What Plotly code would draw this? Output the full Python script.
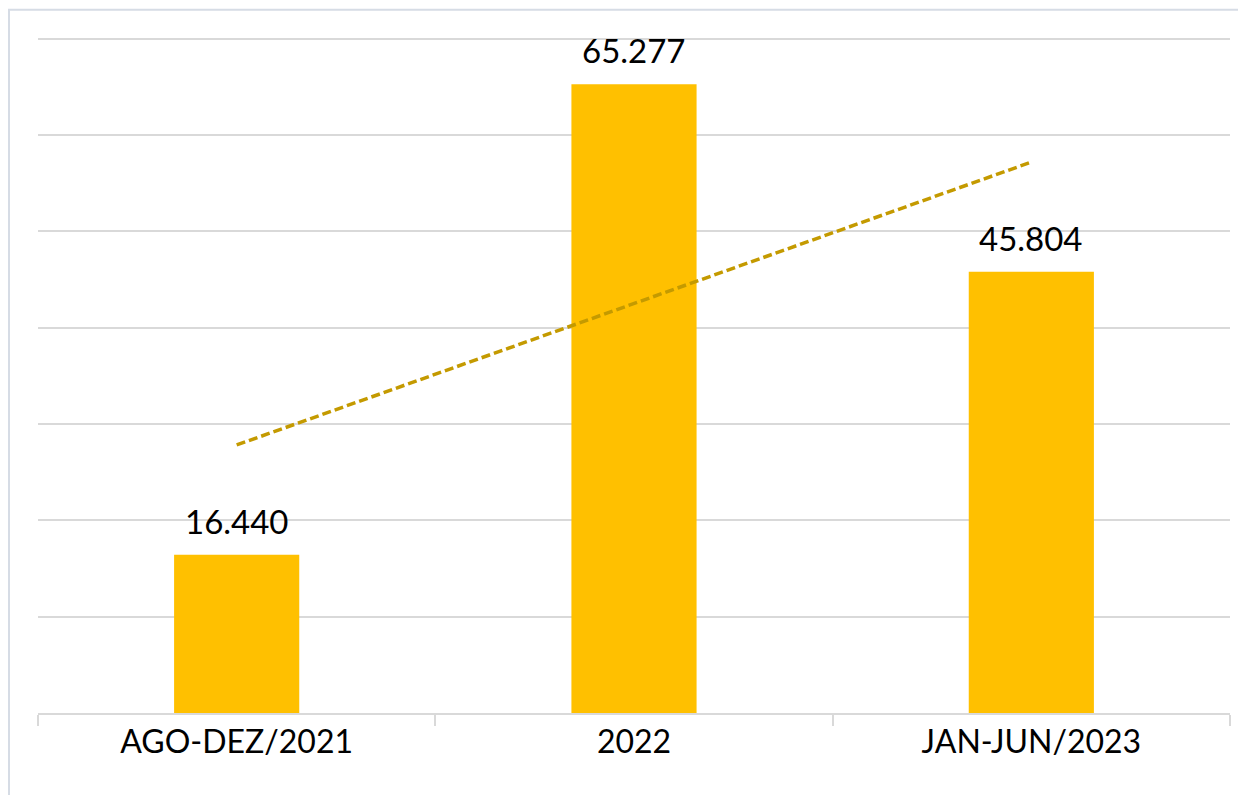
import numpy as np
import plotly.graph_objects as go

categories = ["AGO-DEZ/2021", "2022", "JAN-JUN/2023"]
values = [16440, 65277, 45804]
value_labels = ["16.440", "65.277", "45.804"]
y_max = 70000

OFF = 8  # default page body margin
W, H = 1246 - OFF, 795 - OFF
plot_left, plot_right, plot_top, plot_bottom = 38, 1230, 39, 713
y_top = y_max * 1.004  # a bit of headroom so the top gridline is drawn
px_per_unit = (plot_bottom - plot_top) / y_max
ml = plot_left - OFF
mr = W + OFF - plot_right
mb = H + OFF - plot_bottom
mt = plot_bottom - y_top * px_per_unit - OFF
pw, ph = W - ml - mr, H - mt - mb

xi = np.arange(1, len(values) + 1)
slope, intercept = np.polyfit(xi, values, 1)
trend = slope * xi + intercept

fig = go.Figure()
fig.add_trace(go.Bar(x=categories, y=values, marker=dict(color="#FFC000", line=dict(width=0)),
                     width=0.315, hoverinfo="skip"))
fig.add_trace(go.Scatter(x=[categories[0], categories[-1]], y=[trend[0], trend[-1]], mode="lines",
                         line=dict(color="#C49A00", width=3.5, dash="9px,4px"), hoverinfo="skip"))

for i, (v, t) in enumerate(zip(values, value_labels)):
    fig.add_annotation(x=i, xref="x", y=v, yref="y", text=t, showarrow=False,
                       yanchor="middle", yshift=34,
                       font=dict(family="Lato", size=33, color="#000000"))

def px_to_paper_x(p):
    return (p - OFF - ml) / pw

def px_to_paper_y(p):
    return (H + OFF - mb - p) / ph

fig.add_shape(type="rect", xref="paper", yref="paper",
              x0=px_to_paper_x(9), x1=px_to_paper_x(1260), y0=px_to_paper_y(810), y1=px_to_paper_y(10),
              line=dict(color="#D6DCE5", width=2), fillcolor="rgba(0,0,0,0)", layer="below")

fig.update_layout(
    width=W, height=H, margin=dict(l=ml, r=mr, t=mt, b=mb),
    plot_bgcolor="white", paper_bgcolor="white", showlegend=False,
    xaxis=dict(type="category", tickson="boundaries", ticks="outside", ticklen=11, tickcolor="#D9D9D9",
               tickwidth=1.5, showline=True, linecolor="#D9D9D9", linewidth=1.5, showgrid=False,
               tickfont=dict(family="Lato", size=32, color="#000000"), range=[-0.5, 2.5]),
    yaxis=dict(range=[0, y_top], dtick=10000, showgrid=True, gridcolor="#D9D9D9", gridwidth=1.5,
               showticklabels=False, zeroline=False, showline=False),
)

fig.write_html("out.html")
